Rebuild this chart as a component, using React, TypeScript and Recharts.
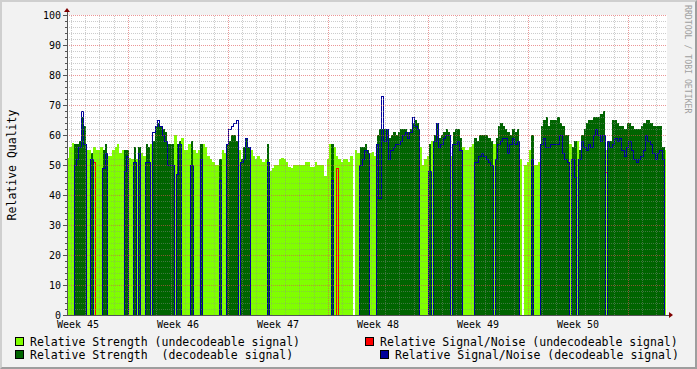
import React from 'react';
import { ComposedChart, Area, Line, XAxis, YAxis, CartesianGrid, ReferenceLine, ReferenceDot } from 'recharts';

// rrdtool-ish look
const MONO = '"DejaVu Sans Mono", monospace';
const LIGHT = '#80FF00';
const DARK = '#006400';
const RED = '#FF0000';
const BLUE = '#00009C';
const AXIS = '#555555';
const ARROW = '#7F0000';
const GRID = 'rgba(143,143,143,0.45)';
const MGRID = 'rgba(222,80,80,0.6)';

const HOURS_PER_STEP = 4;
const STEPS_PER_WEEK = 42;
const DATA_END_HOURS = 1006;
const X_MAX = 1008;

const weekLabels = ['Week 45', 'Week 46', 'Week 47', 'Week 48', 'Week 49', 'Week 50'];
const weekLabelHours = [18.5, 186.5, 354.5, 522.5, 690.5, 858.5];
const yTicks = Array.from({ length: 51 }, (_, i) => i * 2);

const _ = null;

// relative strength, one value per 4h step
const strength45 = [52.5, 56, 57.5, 57, 57, 58, 66, 63, 55, 55, 54, 56, 55, 55, 56, 55, 57, 53, 53, 55, 56, 57, 54, 55, 55, 55, 52.5, 52, 56, 52, 56, 54, 53, 57, 56, 57, 58, 63, 64, 63, 62, 61];
const strength46 = [57, 57, 57, 60, 57, 58, 59, 55, 55, 57, 58, 55, 54, 55, 57, 57, 56, 53, 52, 51, 50, 50, 52, 55, 54, 57, 58, 60, 60, 58, 55, 52, 56, 59, 56, 55, 53, 52, 53, 52, 51, 52];
const strength47 = [57, 48, 49, 50, 50, 52, 52.5, 52, 51, 49.5, 49, 50, 50, 50, 50, 50, 51, 51, 49.5, 49.5, 51, 50, 50, 50, 46.5, 52, 57, 57, 56, 53, 52, 51, 52, 52, 51, 53, 0, 55, 54, 56, 56, 57];
const strength48 = [55, 54, 54.5, 53, 60, 62, 62, 62, 62, 59, 60, 61, 60, 61, 62, 62, 62, 61, 62, 64, 65, 64, 56, 50, 52, 53, 57, 58, 60, 64, 59, 60, 61, 62, 61, 53, 61, 62, 62, 59, 56, 55];
const strength49 = [55, 56, 57, 59, 58, 60, 60, 60, 60, 59, 58, 57, 59, 63, 64, 63, 62, 61, 60, 62, 61, 62, 52, 0, 50, 51, 55, 60, 50, 50, 51, 63, 65, 66, 63, 65, 65, 65, 66, 64, 63, 60];
const strength50 = [60, 57, 56, 58, 58, 55, 60, 62, 64, 65, 65, 66, 66, 66, 67, 68, 55, 58, 58, 65, 65, 64, 63, 63, 62, 64, 64, 63, 62, 62, 62, 63, 64, 65, 65, 64, 63, 63, 63, 63, 56, 55];

// signal/noise while decodeable (null = signal not decodeable in that step)
const snr45 = [_, _, _, 50, 52, 56, 68, 57, _, _, 52, _, _, _, _, 49, 54, _, _, _, _, _, _, _, 48, 53, _, _, 51, _, 54, _, _, 51, 51, _, 61, 63, 65, 63, 60, 58];
const snr46 = [50, 50, 50, _, 47, 57, _, _, _, _, 50, _, _, _, 52, _, _, _, _, _, _, _, 45, _, _, 57, 62, 63, 64, 65, _, 51, 52, 59, 56, _, _, _, _, _, _, _];
const snr47 = [51, _, _, _, _, _, _, _, _, _, _, _, _, _, _, _, _, _, _, _, _, _, _, _, _, _, _, 45, _, _, _, _, _, _, _, _, _, _, _, 50, 52, 55];
const snr48 = [54, _, _, _, 57, 39, 73, 58, 62, 52, 55, 56, 57, 57, 58, 60, 61, 59, 61, 66, 63, 62, _, _, _, _, 48, _, 58, 64, 56, 57, 59, 60, 60, _, 57, 57, 58, 55, _, _];
const snr49 = [_, _, _, 51, 51, 53, 54, 53, 52, 51, 50, _, 52, 57, 58, 59, 59, 54, 57, 59, 57, 58, _, _, _, _, _, 52, _, _, _, 57, 59, 56, 56, 57, 57, 57, 57, 60, 54, 52];
const snr50 = [51, _, 52, 46, _, 52, 58, 56, 55, 57, 56, 60, 62, 60, 58, 60, _, 58, 56, 57, 59, 58, 59, 55, 53, 56, 58, 55, 52, 51, 52, 53, 55, 60, 58, 57, 54, 52, 54, 55, 52, _];

// signal/noise while undecodeable: [step, value]
const undecodeableSnr = [[11, 51], [113, 49], [226, 47.5]];

const strengthByWeek = [strength45, strength46, strength47, strength48, strength49, strength50];
const snrByWeek = [snr45, snr46, snr47, snr48, snr49, snr50];

const data: any[] = [];
strengthByWeek.forEach((week, w) =>
  week.forEach((s, j) => {
    const i = w * STEPS_PER_WEEK + j;
    const snr = snrByWeek[w][j];
    const red = undecodeableSnr.find((r) => r[0] === i);
    data.push({
      t: i * HOURS_PER_STEP,
      light: s,
      dark: snr === null ? 0 : s,
      snrDec: snr === null ? 0 : snr,
      snrUnd: red ? red[1] : 0,
    });
  })
);
// closing row so the last step gets its width
data.push({ ...data[data.length - 1], t: DATA_END_HOURS });

// grid: minor every day, major once a week, horizontal every 2 / every 10
const dayLines = Array.from({ length: 42 }, (_, k) => 7 + 24 * k);
const weekLines = Array.from({ length: 6 }, (_, k) => 103 + 168 * k);
const minorY = yTicks.filter((v) => v > 0 && v % 10 !== 0);
const majorY = yTicks.filter((v) => v > 0 && v % 10 === 0);

const YTick = (props: any) => {
  const { x, y, payload } = props;
  const major = payload.value % 10 === 0;
  return (
    <g>
      <line x1={x - (major ? 4 : 2)} x2={x} y1={y} y2={y} stroke={AXIS} />
      {major && (
        <text x={x - 6} y={y} dy="0.36em" textAnchor="end" fontSize={10} fontFamily={MONO} fill="#000">
          {payload.value}
        </text>
      )}
    </g>
  );
};

const UpArrow = ({ cx, cy }: any) => (
  <g>
    <line x1={cx} x2={cx} y1={cy} y2={cy - 4} stroke={AXIS} />
    <polygon points={`${cx - 3},${cy - 3} ${cx + 3},${cy - 3} ${cx},${cy - 7}`} fill={ARROW} />
  </g>
);

const RightArrow = ({ cx, cy }: any) => (
  <g>
    <line x1={cx} x2={cx + 3} y1={cy} y2={cy} stroke={AXIS} />
    <polygon points={`${cx + 2},${cy - 3} ${cx + 2},${cy + 3} ${cx + 6},${cy}`} fill={ARROW} />
  </g>
);

const LegendItem = ({ x, y, color, label }: { x: number; y: number; color: string; label: string }) => (
  <g>
    <rect x={x + 0.5} y={y + 0.5} width={8} height={8} fill={color} stroke="#000" strokeWidth={1} />
    <text x={x + 15} y={y + 9} fontSize={11.5} fontFamily={MONO} fill="#000" style={{ whiteSpace: 'pre' }}>
      {label}
    </text>
  </g>
);

export default function App() {
  return (
    <div
      className="rrd"
      style={{ position: 'absolute', left: 0, top: 0, width: 697, height: 369, background: '#F2F2F2', overflow: 'hidden' }}
    >
      <style>{`.rrd .recharts-surface path, .rrd .recharts-surface line, .rrd .recharts-surface rect { shape-rendering: crispEdges; }`}</style>
      <ComposedChart width={697} height={369} data={data} margin={{ top: 15, right: 30, bottom: 34, left: 7 }}>
        <CartesianGrid fill="#FFFFFF" horizontal={false} vertical={false} />
        <Area type="stepAfter" dataKey="light" stroke="none" fill={LIGHT} fillOpacity={1} isAnimationActive={false} />
        <Area type="stepAfter" dataKey="dark" stroke="none" fill={DARK} fillOpacity={1} isAnimationActive={false} />
        <Line type="stepAfter" dataKey="snrUnd" stroke={RED} strokeWidth={1} dot={false} activeDot={false} isAnimationActive={false} />
        <Line type="stepAfter" dataKey="snrDec" stroke={BLUE} strokeWidth={1} dot={false} activeDot={false} isAnimationActive={false} />
        {minorY.map((v) => (
          <ReferenceLine key={'my' + v} y={v} stroke={GRID} strokeDasharray="1 1" />
        ))}
        {dayLines
          .filter((h) => !weekLines.includes(h))
          .map((h) => (
            <ReferenceLine key={'mx' + h} x={h} stroke={GRID} strokeDasharray="1 1" />
          ))}
        {majorY.map((v) => (
          <ReferenceLine key={'My' + v} y={v} stroke={MGRID} strokeDasharray="1 1" />
        ))}
        {weekLines.map((h) => (
          <ReferenceLine key={'Mx' + h} x={h} stroke={MGRID} strokeDasharray="1 1" />
        ))}
        <XAxis
          type="number"
          dataKey="t"
          domain={[0, X_MAX]}
          ticks={weekLabelHours}
          interval={0}
          allowDataOverflow
          height={20}
          axisLine={{ stroke: AXIS }}
          tickLine={false}
          tickSize={0}
          tickMargin={6}
          tick={{ fontSize: 10, fontFamily: MONO, fill: '#000' }}
          tickFormatter={(v: number) => weekLabels[weekLabelHours.indexOf(v)]}
        />
        <YAxis
          type="number"
          domain={[0, 100]}
          ticks={yTicks}
          interval={0}
          width={60}
          axisLine={{ stroke: AXIS }}
          tickLine={false}
          tickSize={0}
          tickMargin={0}
          tick={<YTick />}
        />
        <ReferenceDot x={0} y={100} r={0} ifOverflow="visible" shape={<UpArrow />} />
        <ReferenceDot x={X_MAX} y={0} r={0} ifOverflow="visible" shape={<RightArrow />} />
      </ComposedChart>
      <svg width={697} height={369} style={{ position: 'absolute', left: 0, top: 0, pointerEvents: 'none' }}>
        <text transform="translate(15.5,165) rotate(-90)" textAnchor="middle" fontSize={11.5} fontFamily={MONO} fill="#000">
          Relative Quality
        </text>
        <text transform="translate(684.5,5) rotate(90)" fontSize={8.2} fontFamily={MONO} fill="#A0A0A0">
          RRDTOOL / TOBI OETIKER
        </text>
        <LegendItem x={15} y={337} color={LIGHT} label="Relative Strength (undecodeable signal)" />
        <LegendItem x={365} y={337} color={RED} label="Relative Signal/Noise (undecodeable signal)" />
        <LegendItem x={15} y={350} color={DARK} label="Relative Strength  (decodeable signal)" />
        <LegendItem x={380} y={350} color={BLUE} label="Relative Signal/Noise (decodeable signal)" />
      </svg>
      <div
        style={{
          position: 'absolute',
          left: 0,
          top: 0,
          width: 697,
          height: 369,
          boxSizing: 'border-box',
          borderTop: '2px solid #CFCFCF',
          borderLeft: '2px solid #CFCFCF',
          borderBottom: '2px solid #9E9E9E',
          borderRight: '2px solid #9E9E9E',
          pointerEvents: 'none',
        }}
      />
    </div>
  );
}
